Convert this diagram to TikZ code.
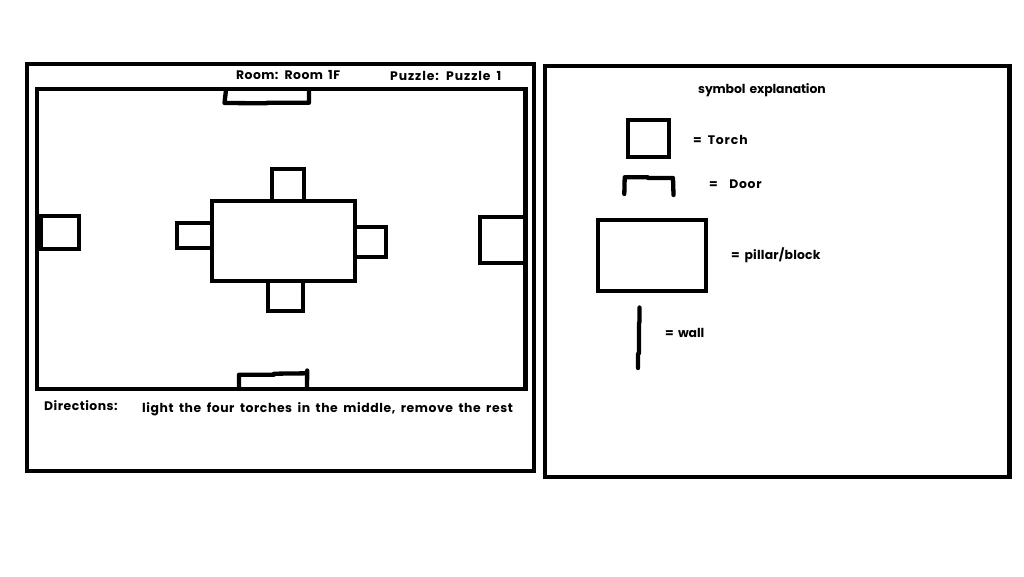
\documentclass[tikz,border=0pt]{standalone}
\usepackage{fontspec}
\setmainfont[LetterSpace=5,WordSpace=1.7]{Poppins}
\newcommand{\spaced}[2]{{\addfontfeature{LetterSpace=#1}#2}}
\tikzset{
  ink/.style={draw=black,line width=4.3pt,line join=miter},
  pen/.style={draw=black,line width=4.3pt,line cap=round,line join=round},
  lab/.style={inner sep=0pt,anchor=west,font=\fontsize{12.4}{14}\selectfont\bfseries,text=black},
}
\begin{document}
\begin{tikzpicture}[x=1pt,y=-1pt]
\useasboundingbox[fill=white] (0,0) rectangle (1024,576);
% panels
\draw[ink] (27,64) rectangle (533.7,471);
\draw[ink] (545,66.3) rectangle (1009.5,477);
% room
\draw[ink] (37,89.3) rectangle (525.5,388.7);
% doors
\draw[pen] (226,90) -- (224.5,103) -- (267,103.3) -- (267,102.7) -- (309,102.7) -- (309,90);
\draw[pen] (239,388) -- (239,374.7) -- (274,374.7) -- (274,373.7) -- (307,373.3) -- (307.2,370.5) -- (307,388);
% pillar and torches
\draw[ink] (272,201) -- (272,168.7) -- (304,168.7) -- (304,201);
\draw[ink] (212,223.3) -- (177.3,223.3) -- (177.3,247.7) -- (212,247.7);
\draw[ink] (354.7,227) -- (386.3,227) -- (386.3,257) -- (354.7,257);
\draw[ink] (268,281.3) -- (268,311.3) -- (302.7,311.3) -- (302.7,281.3);
\draw[ink] (212,201.3) rectangle (354.7,281.3);
\draw[ink] (39,215.7) -- (79,215.7) -- (79,249) -- (39,249);
\draw[ink] (41,215.7) -- (41,249);
\draw[ink] (525,217.3) -- (479.7,217.3) -- (479.7,262.7) -- (525,262.7);
% legend symbols
\draw[ink] (628,120.3) rectangle (669.3,157);
\draw[pen] (624.3,194) -- (624.7,177.3) -- (648,177.3) -- (648,178) -- (673,178) -- (673.5,195);
\draw[ink] (598,220) rectangle (706.3,291);
\draw[pen] (639.5,307.5) -- (639.5,322) -- (639,323) -- (639,353) -- (638,354) -- (638,368);
% labels
\node[lab] (room) at (236,75) {\spaced{3.5}{Room: Room 1F}};
\node[lab] (puzzle) at (390,76) {\spaced{7.5}{Puzzle: Puzzle 1}};
\node[lab] (dirs) at (44,406) {\spaced{4}{Directions:}};
\node[lab] (task) at (142,409.5) {\spaced{4.7}{light the four torches in the middle, remove the rest}};
\node[lab] (symbols) at (698,90) {\spaced{-1}{symbol explanation}};
\node[lab] (torch) at (693,140) {\spaced{7}{= Torch}};
\node[lab] (door) at (709,184) {\spaced{6}{=\ \ Door}};
\node[lab] (block) at (731,255) {\spaced{1.5}{= pillar/block}};
\node[lab] (wall) at (665,333) {\spaced{-1}{= wall}};
\end{tikzpicture}
\end{document}
